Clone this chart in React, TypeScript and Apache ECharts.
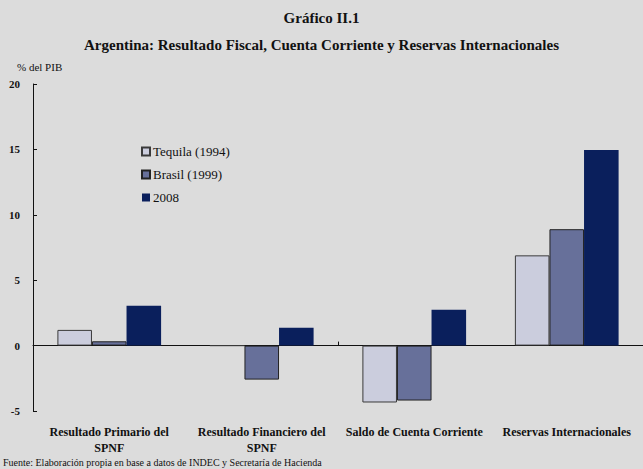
import React, { useEffect, useRef } from "react";
import * as echarts from "echarts";

const categories = [
  "Resultado Primario del\nSPNF",
  "Resultado Financiero del\nSPNF",
  "Saldo de Cuenta Corriente",
  "Reservas Internacionales",
];
const seriesNames = ["Tequila (1994)", "Brasil (1999)", "2008"];
const tequila = [1.2, 0, -4.35, 6.9];
const brasil = [0.33, -2.6, -4.2, 8.9];
const y2008 = [3.05, 1.37, 2.75, 14.95];
const yTicks = { min: -5, max: 20, interval: 5 };

const FONT = "'Liberation Serif', 'DejaVu Serif', serif";

export default function App() {
  const ref = useRef<HTMLDivElement>(null);
  useEffect(() => {
    const chart = echarts.init(ref.current!, null, { renderer: "svg" });
    chart.setOption({
      animation: false,
      backgroundColor: "#dcdcdc",
      textStyle: { fontFamily: FONT },
      title: [
        {
          text: "Gráfico II.1",
          left: "center",
          top: 10,
          padding: 0,
          textStyle: { fontFamily: FONT, fontSize: 15, fontWeight: "bold", color: "#111" },
        },
        {
          text: "Argentina: Resultado Fiscal, Cuenta Corriente y Reservas Internacionales",
          left: "center",
          top: 37,
          padding: 0,
          textStyle: { fontFamily: FONT, fontSize: 15, fontWeight: "bold", color: "#111" },
        },
        {
          text: "% del PIB",
          left: 17,
          top: 61,
          padding: 0,
          textStyle: { fontFamily: FONT, fontSize: 11, fontWeight: "normal", color: "#111" },
        },
        {
          text: "Fuente: Elaboración propia en base a datos de INDEC y Secretaría de Hacienda",
          left: 3,
          top: 457,
          padding: 0,
          textStyle: { fontFamily: FONT, fontSize: 10, fontWeight: "normal", color: "#111" },
        },
      ],
      legend: {
        orient: "vertical",
        left: 141,
        top: 145,
        padding: 0,
        itemWidth: 8,
        itemHeight: 8,
        itemGap: 10,
        icon: "rect",
        textStyle: { fontFamily: FONT, fontSize: 13, color: "#111", padding: [0, 0, 0, -2] },
        data: seriesNames,
      },
      grid: { left: 33, width: 614, top: 84, height: 327, containLabel: false },
      xAxis: [
        {
          type: "category",
          data: categories,
          axisLine: { onZero: true, lineStyle: { color: "#111", width: 1 } },
          axisTick: { show: true, inside: true, length: 4, lineStyle: { color: "#111" } },
          axisLabel: { show: false },
        },
        {
          type: "category",
          data: categories,
          position: "bottom",
          axisLine: { show: false, onZero: false },
          axisTick: { show: false },
          axisLabel: {
            show: true,
            interval: 0,
            margin: 13,
            fontFamily: FONT,
            fontSize: 12,
            fontWeight: "bold",
            color: "#111",
            lineHeight: 16,
          },
        },
      ],
      yAxis: {
        type: "value",
        min: yTicks.min,
        max: yTicks.max,
        interval: yTicks.interval,
        splitLine: { show: false },
        axisLine: { show: true, lineStyle: { color: "#111", width: 1 } },
        axisTick: { show: true, inside: true, length: 4, lineStyle: { color: "#111" } },
        axisLabel: {
          fontFamily: FONT,
          fontSize: 11,
          fontWeight: "bold",
          color: "#111",
          margin: 13,
        },
      },
      series: [
        {
          name: seriesNames[0],
          type: "bar",
          data: tequila,
          barGap: "0%",
          barCategoryGap: "32%",
          itemStyle: { color: "#cbcddd", borderColor: "#3a3a3a", borderWidth: 1 },
        },
        {
          name: seriesNames[1],
          type: "bar",
          data: brasil,
          itemStyle: { color: "#67709a", borderColor: "#222222", borderWidth: 1 },
        },
        {
          name: seriesNames[2],
          type: "bar",
          data: y2008,
          itemStyle: { color: "#0a1f5c", borderColor: "#0a1f5c", borderWidth: 0 },
        },
      ],
    });
    return () => chart.dispose();
  }, []);
  return (
    <div
      ref={ref}
      style={{ position: "fixed", left: 0, top: 0, width: 643, height: 469 }}
    />
  );
}
